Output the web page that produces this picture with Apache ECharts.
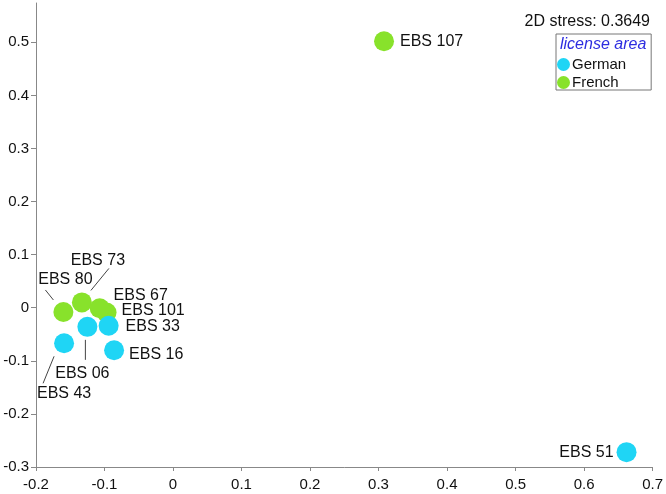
<!DOCTYPE html>
<html>
<head>
<meta charset="utf-8">
<script src="https://cdn.jsdelivr.net/npm/echarts@6/dist/echarts.min.js"></script>
<style>
  html, body { margin: 0; padding: 0; background: #fff; }
  #chart { width: 666px; height: 494px; }
</style>
</head>
<body>
<div id="chart"></div>
<script>
// data
const germanNames = ['EBS 43', 'EBS 06', 'EBS 33', 'EBS 16', 'EBS 51']
const germanX = [-0.159, -0.125, -0.094, -0.086, 0.662]
const germanY = [-0.067, -0.036, -0.034, -0.080, -0.272]

const frenchNames = ['EBS 80', 'EBS 73', 'EBS 101', 'EBS 67', 'EBS 107']
const frenchX = [-0.160, -0.133, -0.097, -0.107, 0.308]
const frenchY = [-0.008, 0.010, -0.009, -0.001, 0.502]

const xTicks = [-0.2, -0.1, 0, 0.1, 0.2, 0.3, 0.4, 0.5, 0.6, 0.7]
const yTicks = [-0.3, -0.2, -0.1, 0, 0.1, 0.2, 0.3, 0.4, 0.5]

const stressText = '2D stress: 0.3649'
const legendTitle = 'license area'

// label placement for each point; line = leader line start/end in pixels from the symbol centre
const labelPlace = {
  'EBS 107': { position: 'right', distance: 6 },
  'EBS 51': { position: 'left', distance: 3 },
  'EBS 16': { position: 'right', distance: 5, offset: [0, 4] },
  'EBS 33': { position: 'right', distance: 7, offset: [0, 1] },
  'EBS 101': { position: 'right', distance: 5, offset: [0, -2] },
  'EBS 67': { position: 'inside', offset: [41, -13] },
  'EBS 73': { position: 'inside', offset: [16, -42], line: [[9, -12], [27, -34]] },
  'EBS 80': { position: 'inside', offset: [2, -32], line: [[-10, -12], [-18, -22]] },
  'EBS 06': { position: 'inside', offset: [-5, 47], line: [[-2, 13], [-2, 33]] },
  'EBS 43': { position: 'inside', offset: [0, 50], line: [[-10, 13], [-21, 40]] }
}

const font = 'Liberation Sans, Arial, sans-serif'

function buildData(names, xs, ys) {
  return names.map((n, i) => {
    let p = labelPlace[n]
    return {
      name: n,
      value: [xs[i], ys[i]],
      label: {
        position: p.position,
        distance: p.distance || 5,
        offset: p.offset || [0, 0]
      }
    }
  })
}

// points that get a leader line
let leaderNames = []
let leaderData = []
;[[germanNames, germanX, germanY], [frenchNames, frenchX, frenchY]].forEach(([ns, xs, ys]) => {
  ns.forEach((n, i) => {
    if (labelPlace[n].line) {
      leaderNames.push(n)
      leaderData.push([xs[i], ys[i]])
    }
  })
})

function renderLeader(params, api) {
  let c = api.coord([api.value(0), api.value(1)])
  let l = labelPlace[leaderNames[params.dataIndex]].line
  return {
    type: 'line',
    shape: {
      x1: c[0] + l[0][0], y1: c[1] + l[0][1],
      x2: c[0] + l[1][0], y2: c[1] + l[1][1]
    },
    style: { stroke: '#444', lineWidth: 1 }
  }
}

let myChart = echarts.init(document.getElementById('chart'))

let seriesLabel = {
  show: true,
  formatter: '{b}',
  color: '#111',
  fontFamily: font,
  fontSize: 16
}

let opt = {
  animation: false,
  backgroundColor: '#fff',
  title: [
    {
      text: stressText,
      right: 16,
      top: 14,
      padding: 0,
      textStyle: { fontFamily: font, fontSize: 16, fontWeight: 'normal', color: '#111' }
    },
    {
      text: legendTitle,
      left: 560,
      top: 37,
      padding: 0,
      textStyle: { fontFamily: font, fontSize: 16, fontWeight: 'normal', fontStyle: 'italic', color: '#2d2de0' }
    }
  ],
  legend: {
    data: ['German', 'French'],
    orient: 'vertical',
    left: 556,
    top: 34,
    padding: [23, 25, 0, 1],
    itemGap: 3,
    itemWidth: 13,
    itemHeight: 13,
    icon: 'circle',
    borderColor: '#777',
    borderWidth: 1,
    borderRadius: 0,
    textStyle: { fontFamily: font, fontSize: 15, color: '#111', padding: [0, 0, 0, -3] }
  },
  grid: {
    left: 36,
    right: 12,
    top: 3,
    bottom: 27
  },
  xAxis: {
    type: 'value',
    min: -0.2,
    max: 0.7,
    interval: 0.1,
    splitLine: { show: false },
    axisLine: { onZero: false, lineStyle: { color: '#888' } },
    axisTick: { length: 4, lineStyle: { color: '#888' }, customValues: xTicks },
    axisLabel: {
      customValues: xTicks,
      margin: 10,
      color: '#111',
      fontFamily: font,
      fontSize: 15,
      formatter: v => String(Math.round(v * 10) / 10)
    }
  },
  yAxis: {
    type: 'value',
    min: -0.3,
    max: 0.574,
    interval: 0.1,
    splitLine: { show: false },
    axisLine: { show: true, onZero: false, lineStyle: { color: '#888' } },
    axisTick: { show: true, length: 5, lineStyle: { color: '#888' }, customValues: yTicks },
    axisLabel: {
      customValues: yTicks,
      margin: 7,
      color: '#111',
      fontFamily: font,
      fontSize: 15,
      formatter: v => String(Math.round(v * 10) / 10)
    }
  },
  series: [
    {
      name: 'leaders',
      type: 'custom',
      renderItem: renderLeader,
      silent: true,
      data: leaderData
    },
    {
      name: 'French',
      type: 'scatter',
      symbolSize: 20,
      itemStyle: { color: '#88e22b', opacity: 1 },
      label: seriesLabel,
      data: buildData(frenchNames, frenchX, frenchY)
    },
    {
      name: 'German',
      type: 'scatter',
      symbolSize: 20,
      itemStyle: { color: '#1fd5f5', opacity: 1 },
      label: seriesLabel,
      data: buildData(germanNames, germanX, germanY)
    }
  ]
}

myChart.setOption(opt)
</script>
</body>
</html>
